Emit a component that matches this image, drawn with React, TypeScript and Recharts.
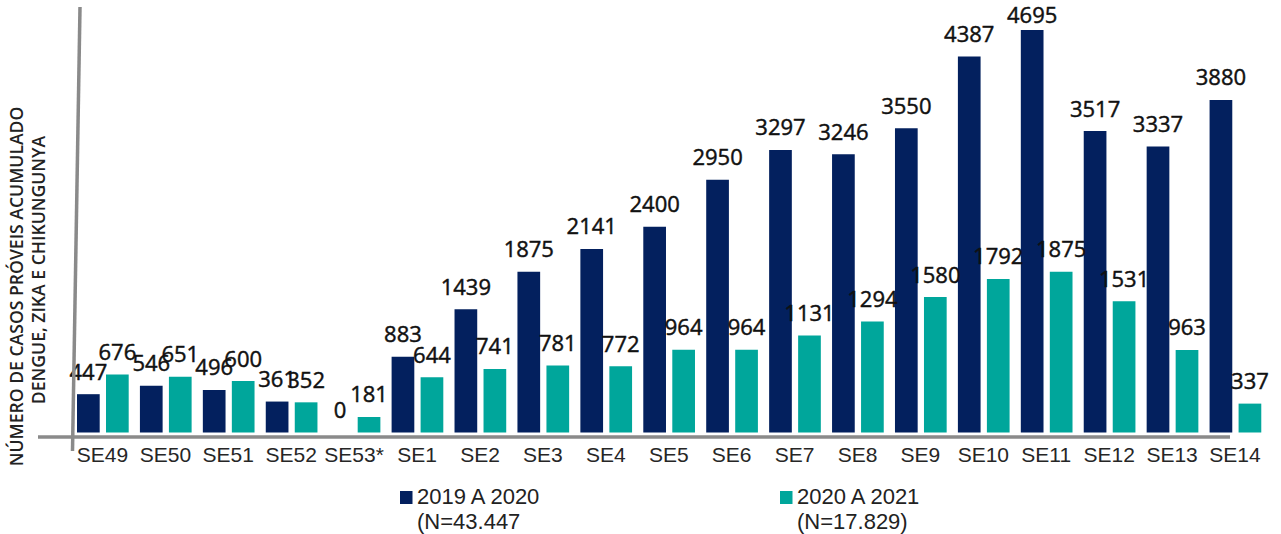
import React from 'react';
import { BarChart, Bar, XAxis, YAxis, LabelList } from 'recharts';

const categories = ['SE49', 'SE50', 'SE51', 'SE52', 'SE53*', 'SE1', 'SE2', 'SE3', 'SE4', 'SE5', 'SE6', 'SE7', 'SE8', 'SE9', 'SE10', 'SE11', 'SE12', 'SE13', 'SE14'];
const series2019 = [447, 546, 496, 361, 0, 883, 1439, 1875, 2141, 2400, 2950, 3297, 3246, 3550, 4387, 4695, 3517, 3337, 3880];
const series2020 = [676, 651, 600, 352, 181, 644, 741, 781, 772, 964, 964, 1131, 1294, 1580, 1792, 1875, 1531, 963, 337];
const seriesNames = ['2019 A 2020', '2020 A 2021'];
const seriesNotes = ['(N=43.447', '(N=17.829)'];
const yLabelLines = ['NÚMERO DE CASOS PRÓVEIS ACUMULADO', 'DENGUE, ZIKA E CHIKUNGUNYA'];

const NAVY = '#03205E';
const TEAL = '#00A69B';
const AXIS = '#8A8A8A';

const data = categories.map((c, i) => ({ cat: c, a: series2019[i], b: series2020[i] }));

const ValueLabel = (props: any) => {
  const { x, y, width, height, value } = props;
  const top = Math.min(y, y + height);
  const baseline = Math.max(top - 14.5, 23.3);
  return (
    <text x={x + width / 2} y={baseline} textAnchor="middle" fontFamily="'Open Sans', sans-serif" fontSize={22} fill="#111" stroke="#111" strokeWidth={0.45}>
      {value}
    </text>
  );
};

const Tick = (props: any) => {
  const { x, y, payload } = props;
  return (
    <text x={x} y={y + 29} textAnchor="middle" fontFamily="'Liberation Sans', Arial, sans-serif" fontSize={21} fill="#262626">
      {payload.value}
    </text>
  );
};

export default function App() {
  return (
    <div style={{ position: 'absolute', left: 0, top: 0, width: 1281, height: 534, background: '#fff' }}>
      <BarChart
        width={1281}
        height={534}
        data={data}
        margin={{ top: 3.9, right: 14.5, bottom: 71.5, left: 71 }}
        barSize={22.7}
        barGap={6.3}
      >
        <YAxis hide domain={[0, 5000]} />
        <XAxis dataKey="cat" axisLine={false} tickLine={false} tickSize={0} tickMargin={0} interval={0} height={30} tick={<Tick />} />
        <Bar dataKey="a" fill={NAVY} minPointSize={0.01} isAnimationActive={false}>
          <LabelList dataKey="a" content={<ValueLabel />} />
        </Bar>
        <Bar dataKey="b" fill={TEAL} minPointSize={0.01} isAnimationActive={false}>
          <LabelList dataKey="b" content={<ValueLabel />} />
        </Bar>
      </BarChart>
      <svg width={1281} height={534} style={{ position: 'absolute', left: 0, top: 0, pointerEvents: 'none' }}>
        <line x1={80} y1={7} x2={72.5} y2={451} stroke={AXIS} strokeWidth={3.5} />
        <line x1={38} y1={437} x2={1230} y2={437} stroke={AXIS} strokeWidth={3.5} />
        <text transform="translate(22.5,286.5) rotate(-90)" textAnchor="middle" fontFamily="'Open Sans', sans-serif" fontWeight={600} fontSize={17.6} fill="#222">
          {yLabelLines[0]}
        </text>
        <text transform="translate(45,270) rotate(-90)" textAnchor="middle" fontFamily="'Open Sans', sans-serif" fontWeight={600} fontSize={17.6} fill="#222">
          {yLabelLines[1]}
        </text>
        {seriesNames.map((name, i) => {
          const x0 = i === 0 ? 400 : 780;
          const color = i === 0 ? NAVY : TEAL;
          return (
            <g key={name}>
              <rect x={x0} y={491} width={12.5} height={13} fill={color} />
              <text x={x0 + 17} y={504.3} fontFamily="'Liberation Sans', Arial, sans-serif" fontSize={22} fill="#222">{name}</text>
              <text x={x0 + 17} y={529} fontFamily="'Liberation Sans', Arial, sans-serif" fontSize={22} fill="#222">{seriesNotes[i]}</text>
            </g>
          );
        })}
      </svg>
    </div>
  );
}
